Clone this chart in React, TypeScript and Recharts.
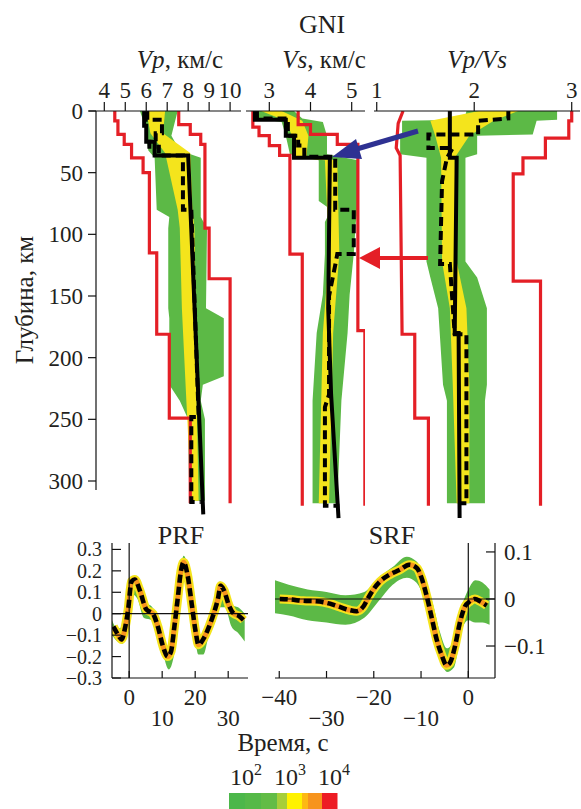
import React from 'react';
import { ComposedChart, Line, Area, XAxis, YAxis, ReferenceLine } from 'recharts';

const FONT = '"Liberation Serif", "Times New Roman", "DejaVu Serif", serif';
const TXT = '#231f20';
const GREEN = '#5cb946';
const YELLOW = '#f4e41c';
const ORANGE = '#f7941d';
const RED = '#e41f26';
const BLUE = '#2e3192';

// ---------- axes ticks ----------
const depthTicks = [0, 50, 100, 150, 200, 250, 300];
const vpTicks = [4, 5, 6, 7, 8, 9, 10];
const vsTicks = [3, 4, 5];
const ratioTicks = [1, 2, 3];
const prfTimeTicks = [0, 10, 20, 30];
const prfAmpTicks = [-0.3, -0.2, -0.1, 0, 0.1, 0.2, 0.3];
const srfTimeTicks = [-40, -30, -20, -10, 0];
const srfAmpTicks = [-0.1, 0, 0.1];

// ---------- Vp profiles: [depth km, Vp km/s] ----------
const vpRedLeft = [[0, 4.5], [8, 4.5], [8, 4.65], [19, 4.65], [19, 4.95], [27, 4.95], [27, 5.3], [38, 5.3], [38, 5.85], [50, 5.85], [50, 6.15], [115, 6.15], [115, 6.5], [181, 6.5], [181, 7.1], [249, 7.1], [249, 8.1], [318, 8.1]];
const vpRedRight = [[0, 7.55], [11, 7.55], [11, 8.1], [19, 8.1], [19, 8.6], [27, 8.6], [27, 8.8], [95, 8.8], [95, 9.0], [136, 9.0], [136, 10.0], [318, 10.0]];
const vpSolid = [[0, 5.9], [12, 5.9], [12, 6.0], [25, 6.0], [25, 6.4], [36, 6.4], [36, 8.0], [327, 8.72]];
const vpDashed = [[0, 6.05], [7, 6.05], [7, 6.75], [18, 6.75], [18, 6.45], [23, 6.45], [23, 6.15], [29, 6.15], [29, 6.6], [36, 6.6], [36, 7.75], [80, 7.75], [80, 8.15], [248, 8.5], [248, 8.15], [317, 8.15], [317, 8.6]];
// [depth, low, high]
const vpGreen = [[0, 5.7, 7.5], [10, 5.9, 7.35], [20, 6.0, 7.2], [32, 6.1, 7.6], [38, 6.4, 8.6], [80, 6.5, 8.6], [86, 7.1, 8.6], [95, 7.05, 8.9], [160, 7.05, 8.85], [168, 7.1, 9.7], [215, 7.1, 9.7], [222, 7.1, 8.7], [235, 7.6, 8.6], [250, 8.0, 8.8], [316, 8.05, 8.8]];
const vpYellow = [[0, 6.0, 6.9], [18, 6.2, 6.8], [34, 6.9, 8.1], [80, 7.5, 8.2], [95, 7.6, 8.3], [160, 7.7, 8.35], [230, 7.9, 8.4], [316, 8.15, 8.5]];

// ---------- Vs profiles ----------
const vsRedLeft = [[0, 2.6], [13, 2.6], [13, 2.75], [20, 2.75], [20, 3.0], [28, 3.0], [28, 3.25], [36, 3.25], [36, 3.5], [116, 3.5], [116, 3.8], [320, 3.8]];
const vsRedRight = [[0, 3.7], [11, 3.7], [11, 4.0], [19, 4.0], [19, 4.65], [27, 4.65], [27, 5.15], [178, 5.15], [178, 5.32], [320, 5.32]];
const vsSolid = [[0, 2.65], [7, 2.65], [7, 3.4], [20, 3.4], [20, 3.6], [38, 3.6], [38, 4.47], [160, 4.43], [230, 4.5], [330, 4.68]];
const vsDashed = [[0, 2.7], [6, 2.7], [6, 3.45], [20, 3.45], [20, 3.7], [28, 3.7], [28, 3.85], [37, 3.85], [37, 4.6], [80, 4.6], [80, 5.05], [116, 5.05], [116, 4.65], [125, 4.6], [150, 4.45], [230, 4.45], [240, 4.35], [320, 4.35], [320, 4.7]];
const vsGreen = [[0, 2.65, 3.6], [6, 2.7, 3.8], [9, 3.3, 4.3], [20, 3.4, 4.4], [35, 3.5, 4.4], [40, 4.2, 5.15], [73, 4.2, 5.15], [80, 4.5, 5.15], [90, 4.35, 5.1], [116, 4.35, 5.05], [149, 4.3, 4.95], [180, 4.15, 4.9], [235, 4.05, 4.75], [318, 4.05, 4.65]];
const vsYellow = [[0, 2.8, 3.3], [8, 3.4, 3.8], [20, 3.55, 3.95], [38, 3.6, 3.9], [40, 4.35, 4.65], [116, 4.45, 4.7], [180, 4.3, 4.55], [318, 4.2, 4.45]];

// ---------- Vp/Vs profiles ----------
const rRedLeft = [[0, 1.27], [10, 1.22], [30, 1.2], [36, 1.24], [181, 1.26], [181, 1.39], [249, 1.39], [249, 1.53], [320, 1.53]];
const rRedRight = [[0, 3.0], [8, 3.0], [8, 2.97], [22, 2.97], [22, 2.73], [38, 2.73], [38, 2.5], [51, 2.5], [51, 2.4], [138, 2.4], [138, 2.68], [320, 2.68]];
const rSolid = [[0, 1.75], [38, 1.75], [38, 1.82], [180, 1.8], [180, 1.84], [330, 1.85]];
const rDashed = [[0, 2.35], [6, 2.35], [8, 2.04], [19, 2.04], [19, 1.53], [30, 1.53], [30, 1.78], [38, 1.72], [57, 1.67], [124, 1.65], [124, 1.75], [181, 1.8], [181, 1.92], [318, 1.92], [318, 1.85]];
const rGreen = [[0, 1.92, 2.85], [7, 1.9, 2.85], [8, 1.26, 2.64], [19, 1.26, 2.6], [20, 1.24, 2.03], [35, 1.24, 2.03], [38, 1.51, 1.91], [122, 1.51, 1.91], [135, 1.55, 2.03], [160, 1.63, 2.13], [222, 1.68, 2.13], [235, 1.72, 2.11], [318, 1.72, 2.11]];
const rYellow = [[0, 2.05, 2.45], [8, 1.55, 2.2], [20, 1.6, 1.95], [38, 1.66, 1.8], [122, 1.67, 1.82], [160, 1.75, 1.92], [222, 1.78, 1.95], [318, 1.82, 1.95]];

// ---------- PRF ----------
const prfTime = [-4.8, -3.3, -2.3, -1.3, -0.3, 0.7, 1.7, 3.2, 5.2, 7.2, 8.7, 10.2, 11.7, 12.7, 13.7, 14.7, 15.7, 16.5, 17.7, 19.0, 20.2, 21.0, 22.4, 24.2, 25.7, 26.9, 27.7, 28.7, 30.2, 31.7, 33.2, 34.7];
const prfAmp = [-0.06, -0.1, -0.12, -0.07, 0.02, 0.15, 0.16, 0.11, 0.02, 0.0, -0.06, -0.15, -0.2, -0.175, -0.06, 0.07, 0.2, 0.24, 0.18, 0.04, -0.09, -0.145, -0.12, -0.06, 0.005, 0.07, 0.13, 0.11, 0.04, 0.0, -0.01, -0.03];
const prfBandTime = [-5.2, -3.5, -2, -0.5, 1, 2.5, 4.5, 7, 9, 10.5, 12, 13.5, 15, 16.5, 18, 19.5, 21, 22.5, 24, 26, 27.5, 29, 31, 33, 35];
const prfBandHi = [-0.03, -0.07, -0.06, 0.06, 0.17, 0.16, 0.06, 0.03, -0.02, -0.11, -0.16, -0.06, 0.13, 0.27, 0.2, 0.03, -0.1, -0.09, -0.02, 0.07, 0.15, 0.12, 0.04, 0.03, 0.0];
const prfBandLo = [-0.1, -0.13, -0.14, -0.06, 0.09, 0.07, -0.02, -0.03, -0.09, -0.2, -0.26, -0.2, -0.02, 0.18, 0.12, -0.05, -0.19, -0.19, -0.11, -0.04, 0.03, 0.03, -0.06, -0.09, -0.13];

// ---------- SRF ----------
const srfTime = [-39.9, -37.7, -34.9, -32.1, -29.3, -27.2, -25.0, -23.6, -22.2, -21.2, -20.1, -18.7, -16.6, -14.5, -12.5, -10.9, -9.9, -8.8, -7.8, -6.7, -5.6, -4.6, -3.9, -2.8, -1.8, -0.7, 0.35, 1.4, 2.5, 3.9];
const srfAmp = [0, -0.001, -0.004, -0.005, -0.01, -0.017, -0.024, -0.026, -0.016, 0.002, 0.02, 0.037, 0.052, 0.062, 0.073, 0.066, 0.045, 0.006, -0.037, -0.086, -0.12, -0.141, -0.136, -0.1, -0.051, -0.016, -0.005, 0, -0.005, -0.014];
const srfBandTime = [-41, -38, -34, -30, -26, -22, -19, -16, -13, -11, -9, -7.5, -6, -4.5, -3, -1.5, 0, 1.5, 3, 4.5];
const srfBandHi = [0.04, 0.03, 0.02, 0.015, 0.008, 0.015, 0.045, 0.068, 0.09, 0.08, 0.04, -0.01, -0.07, -0.105, -0.085, -0.02, 0.02, 0.04, 0.035, 0.02];
const srfBandLo = [-0.03, -0.035, -0.045, -0.05, -0.055, -0.04, -0.005, 0.03, 0.045, 0.035, -0.01, -0.07, -0.125, -0.155, -0.145, -0.07, -0.045, -0.05, -0.05, -0.055];

// ---------- colour scale legend ----------
const colorbarColors = ['#4cb74a', '#55b948', '#62bc46', '#a6ce39', '#fff200', '#fdb913', '#f7941d', '#ed1c24'];
const colorbarWeights = [16, 16, 16, 10, 15, 6, 14, 15];
const colorbarLabels = ['2', '3', '4'];

// ---------- helpers ----------
const lineRows = (pts: number[][]) => pts.map(([d, v]) => ({ d, v }));
const bandRows = (pts: number[][]) => pts.map(([d, lo, hi]) => ({ d, r: [lo, hi] }));
const seriesRows = (t: number[], a: number[]) => t.map((x, i) => ({ t: x, a: a[i] }));
const rangeRows = (t: number[], lo: number[], hi: number[]) => t.map((x, i) => ({ t: x, r: [lo[i], hi[i]] }));
const fmtSigned = (v: number) => (v < 0 ? '\u2212' + String(Math.abs(v)) : String(v));

const PLOT_TOP = 111;
const DEPTH_MAX = 333.2;
const PROFILE_H = 411;
const TOPAXIS_H = 41;
const SIDE = 16;

type ProfileProps = {
  left: number; width: number; domain: [number, number]; ticks: number[];
  green: number[][]; yellow: number[][]; redL: number[][]; redR: number[][]; solid: number[][]; dashed: number[][];
};

function Profile(p: ProfileProps) {
  return (
    <div style={{ position: 'absolute', left: p.left - SIDE, top: PLOT_TOP - TOPAXIS_H }}>
      <ComposedChart width={p.width + 2 * SIDE} height={TOPAXIS_H + PROFILE_H} layout="vertical" margin={{ top: 0, right: SIDE, bottom: 0, left: SIDE }}>
        <XAxis type="number" orientation="top" domain={p.domain} ticks={p.ticks} allowDataOverflow interval={0}
          height={TOPAXIS_H} tickSize={9} tickMargin={4}
          axisLine={{ stroke: '#111', strokeWidth: 1.2 }} tickLine={{ stroke: '#111', strokeWidth: 1.2 }}
          tick={{ fill: TXT, fontSize: 23, fontFamily: FONT }} />
        <YAxis type="number" dataKey="d" domain={[0, DEPTH_MAX]} hide allowDataOverflow />
        <Area data={bandRows(p.green)} dataKey="r" type="linear" fill={GREEN} fillOpacity={1} stroke="none" isAnimationActive={false} />
        <Area data={bandRows(p.yellow)} dataKey="r" type="linear" fill={YELLOW} fillOpacity={1} stroke="none" isAnimationActive={false} />
        <Line data={lineRows(p.redL)} dataKey="v" type="linear" stroke={RED} strokeWidth={3.2} dot={false} isAnimationActive={false} />
        <Line data={lineRows(p.redR)} dataKey="v" type="linear" stroke={RED} strokeWidth={3.2} dot={false} isAnimationActive={false} />
        <Line data={lineRows(p.solid)} dataKey="v" type="linear" stroke="#000" strokeWidth={4} dot={false} isAnimationActive={false} />
        <Line data={lineRows(p.dashed)} dataKey="v" type="linear" stroke="#000" strokeWidth={4} strokeDasharray="9 5" dot={false} isAnimationActive={false} />
      </ComposedChart>
    </div>
  );
}

const StaggerTick = (props: any) => {
  const { x, y, payload, index } = props;
  const low = index % 2 === 1;
  return (
    <g>
      <line x1={x} y1={y} x2={x} y2={y - 7} stroke="#111" strokeWidth={1.2} />
      <text x={x} y={y + (low ? 48 : 27)} textAnchor="middle" fill={TXT} fontSize={23} fontFamily={FONT}>{fmtSigned(payload.value)}</text>
    </g>
  );
};

const LeftInTick = (props: any) => {
  const { x, y, payload } = props;
  return (
    <g>
      <line x1={x} y1={y} x2={x + 9} y2={y} stroke="#111" strokeWidth={1.2} />
      <text x={x - 10} y={y + 7} textAnchor="end" fill={TXT} fontSize={20} fontFamily={FONT}>{fmtSigned(payload.value)}</text>
    </g>
  );
};

const RightInTick = (props: any) => {
  const { x, y, payload } = props;
  return (
    <g>
      <line x1={x} y1={y} x2={x - 9} y2={y} stroke="#111" strokeWidth={1.2} />
      <text x={x + 9} y={y + 8} textAnchor="start" fill={TXT} fontSize={23} fontFamily={FONT}>{fmtSigned(payload.value)}</text>
    </g>
  );
};

const AX = { stroke: '#111', strokeWidth: 1.2 };

function Colorbar() {
  const total = colorbarWeights.reduce((s, w) => s + w, 0);
  const x0 = 229, w = 108;
  let acc = 0;
  return (
    <g>
      {colorbarColors.map((c, i) => {
        const xs = x0 + (acc / total) * w;
        acc += colorbarWeights[i];
        const xe = x0 + (acc / total) * w;
        return <rect key={i} x={xs} y={793} width={xe - xs + 0.5} height={16} fill={c} />;
      })}
    </g>
  );
}

export default function App() {
  return (
    <div style={{ position: 'absolute', left: 0, top: 0, width: 581, height: 809, background: '#fff', overflow: 'hidden', fontFamily: FONT }}>
      {/* depth axis */}
      <div style={{ position: 'absolute', left: 0, top: PLOT_TOP - 11 }}>
        <ComposedChart width={100} height={11 + 379 + 11} margin={{ top: 11, right: 0, bottom: 11, left: 0 }} data={depthTicks.map((d) => ({ d, x: 0 }))}>
          <XAxis type="number" dataKey="x" hide domain={[0, 1]} />
          <YAxis type="number" dataKey="d" domain={[0, 307.3]} reversed ticks={depthTicks} interval={0} width={96} tickSize={8} tickMargin={5} allowDataOverflow
            axisLine={AX} tickLine={AX} tick={{ fill: TXT, fontSize: 23, fontFamily: FONT }} />
          <Line dataKey="d" stroke="none" dot={false} isAnimationActive={false} />
        </ComposedChart>
      </div>

      <Profile left={89} width={152} domain={[3.27, 10.52]} ticks={vpTicks} green={vpGreen} yellow={vpYellow} redL={vpRedLeft} redR={vpRedRight} solid={vpSolid} dashed={vpDashed} />
      <Profile left={246} width={119} domain={[2.434, 5.323]} ticks={vsTicks} green={vsGreen} yellow={vsYellow} redL={vsRedLeft} redR={vsRedRight} solid={vsSolid} dashed={vsDashed} />
      <Profile left={374} width={206} domain={[0.972, 3.085]} ticks={ratioTicks} green={rGreen} yellow={rYellow} redL={rRedLeft} redR={rRedRight} solid={rSolid} dashed={rDashed} />

      {/* PRF */}
      <div style={{ position: 'absolute', left: 112 - 70, top: 543 - 13 }}>
        <ComposedChart width={70 + 136 + 4} height={13 + 135 + 60} margin={{ top: 13, right: 4, bottom: 0, left: 0 }}>
          <XAxis type="number" dataKey="t" domain={[-5.2, 36]} ticks={prfTimeTicks} interval={0} allowDataOverflow height={60}
            tickSize={0} tickMargin={0} tickLine={false} axisLine={AX} tick={(pr: any) => <StaggerTick {...pr} />} />
          <YAxis type="number" domain={[-0.3, 0.33]} ticks={prfAmpTicks} interval={0} allowDataOverflow width={70}
            tickSize={0} tickMargin={0} tickLine={false} axisLine={AX} tick={(pr: any) => <LeftInTick {...pr} />} />
          <Area data={rangeRows(prfBandTime, prfBandLo, prfBandHi)} dataKey="r" type="monotone" fill={GREEN} fillOpacity={1} stroke="none" isAnimationActive={false} />
          <Line data={seriesRows(prfTime, prfAmp)} dataKey="a" type="monotone" stroke={YELLOW} strokeWidth={9} dot={false} isAnimationActive={false} />
          <Line data={seriesRows(prfTime, prfAmp)} dataKey="a" type="monotone" stroke={ORANGE} strokeWidth={5} dot={false} isAnimationActive={false} />
          <ReferenceLine y={0} stroke="#111" strokeWidth={1.2} />
          <ReferenceLine x={0} stroke="#111" strokeWidth={1.2} />
          <Line data={seriesRows(prfTime, prfAmp)} dataKey="a" type="monotone" stroke="#000" strokeWidth={4.5} strokeDasharray="8 4" dot={false} isAnimationActive={false} />
        </ComposedChart>
      </div>

      {/* SRF */}
      <div style={{ position: 'absolute', left: 275 - 30, top: 543 - 13 }}>
        <ComposedChart width={30 + 220 + 80} height={13 + 135 + 60} margin={{ top: 13, right: 0, bottom: 0, left: 30 }}>
          <XAxis type="number" dataKey="t" domain={[-40.9, 5.65]} ticks={srfTimeTicks} interval={0} allowDataOverflow height={60}
            tickSize={0} tickMargin={0} tickLine={false} axisLine={AX} tick={(pr: any) => <StaggerTick {...pr} />} />
          <YAxis type="number" orientation="right" domain={[-0.168, 0.119]} ticks={srfAmpTicks} interval={0} allowDataOverflow width={80}
            tickSize={0} tickMargin={0} tickLine={false} axisLine={AX} tick={(pr: any) => <RightInTick {...pr} />} />
          <Area data={rangeRows(srfBandTime, srfBandLo, srfBandHi)} dataKey="r" type="monotone" fill={GREEN} fillOpacity={1} stroke="none" isAnimationActive={false} />
          <Line data={seriesRows(srfTime, srfAmp)} dataKey="a" type="monotone" stroke={YELLOW} strokeWidth={9} dot={false} isAnimationActive={false} />
          <Line data={seriesRows(srfTime, srfAmp)} dataKey="a" type="monotone" stroke={ORANGE} strokeWidth={5} dot={false} isAnimationActive={false} />
          <ReferenceLine y={0} stroke="#111" strokeWidth={1.2} />
          <ReferenceLine x={0} stroke="#111" strokeWidth={1.2} />
          <Line data={seriesRows(srfTime, srfAmp)} dataKey="a" type="monotone" stroke="#000" strokeWidth={4.5} strokeDasharray="8 4" dot={false} isAnimationActive={false} />
        </ComposedChart>
      </div>

      {/* titles, annotations, legend */}
      <svg width={581} height={809} style={{ position: 'absolute', left: 0, top: 0, pointerEvents: 'none' }} fontFamily={FONT}>
        <text x={322} y={33} textAnchor="middle" fontSize={26} fill={TXT}>GNI</text>
        <text x={180} y={68} textAnchor="middle" fontSize={25} fill={TXT}><tspan fontStyle="italic">Vp</tspan>, км/с</text>
        <text x={324} y={68} textAnchor="middle" fontSize={25} fill={TXT}><tspan fontStyle="italic">Vs</tspan>, км/с</text>
        <text x={477} y={68} textAnchor="middle" fontSize={25} fill={TXT} fontStyle="italic">Vp/Vs</text>
        <text x={0} y={0} transform="translate(33,300) rotate(-90)" textAnchor="middle" fontSize={25} fill={TXT}>Глубина, км</text>

        {/* arrows */}
        <line x1={418} y1={131} x2={350} y2={151} stroke={BLUE} strokeWidth={5} />
        <polygon points="332,157 356,139 362,159" fill={BLUE} />
        <line x1={428} y1={258} x2={372} y2={258} stroke={RED} strokeWidth={4} />
        <polygon points="359,258 380,247 380,269" fill={RED} />

        <text x={181} y={544} textAnchor="middle" fontSize={26} fill={TXT}>PRF</text>
        <text x={392} y={544} textAnchor="middle" fontSize={26} fill={TXT}>SRF</text>
        <text x={283} y={751} textAnchor="middle" fontSize={25} fill={TXT}>Время, с</text>

        {colorbarLabels.map((e, i) => (
          <text key={e} x={230 + i * 44} y={785} fontSize={24} fill={TXT}>10<tspan dy={-10} fontSize={16}>{e}</tspan></text>
        ))}
        <Colorbar />
      </svg>
    </div>
  );
}
